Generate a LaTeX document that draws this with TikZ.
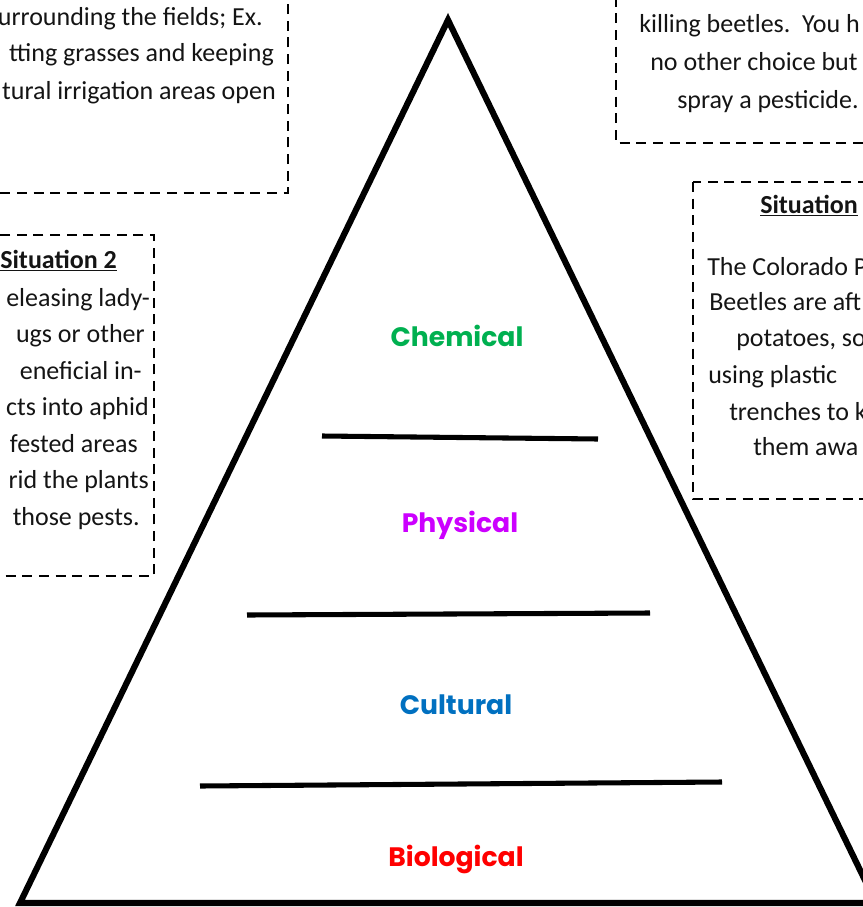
\documentclass[tikz,border=0pt]{standalone}
\usepackage{fontspec}
\setmainfont{Carlito}
\newfontfamily\tierfont{Poppins}
\usetikzlibrary{positioning}
\definecolor{chemgreen}{RGB}{0,176,80}
\definecolor{physpurple}{RGB}{204,0,255}
\definecolor{cultblue}{RGB}{0,112,192}
\definecolor{biored}{RGB}{255,0,0}
\definecolor{bodytext}{RGB}{20,20,20}
\tikzset{
  sitbox/.style={
    draw=black, line width=2.2pt,
    dash pattern=on 7.5pt off 5pt
  },
  sittext/.style={
    inner sep=0pt, text=bodytext,
    font=\fontsize{19.5}{27}\selectfont
  },
  sittitle/.style={
    inner sep=0pt, text=bodytext,
    font=\fontsize{19.5}{27}\selectfont\bfseries
  },
  tierlabel/.style={
    inner sep=0pt, anchor=base,
    font=\tierfont\bfseries\fontsize{20}{24}\selectfont
  },
  tierline/.style={line width=3.8pt},
  pyramid/.style={line width=4.6pt, line join=miter, miter limit=20},
}

\begin{document}
\begin{tikzpicture}[x=0.75pt, y=-0.75pt]
\useasboundingbox (0,0) rectangle (863,907);
\clip (0,0) rectangle (863,907);

%% ── Situation boxes (cut by the page edge) ─────────────────────────────
\draw[sitbox] (-20,-20) rectangle (288,193);
\node[sittext, anchor=base east] (cult1) at (263,25) {urrounding the fields; Ex.};
\node[sittext, anchor=base east] (cult2) at (274,61) {tting grasses and keeping};
\node[sittext, anchor=base east] (cult3) at (276,99) {tural irrigation areas open};

\draw[sitbox] (616,-20) rectangle (880,143);
\node[sittext, anchor=base west] (chem1) at (639,32) {killing beetles.\ \ You h};
\node[sittext, anchor=base west] (chem2) at (650,70) {no other choice but};
\node[sittext, anchor=base west] (chem3) at (677,108) {spray a pesticide.};

\draw[sitbox] (-20,235) rectangle (154,576);
\node[sittitle, anchor=base east] (bio0) at (117,268) {\underline{Situation 2}};
\node[sittext, anchor=base east] (bio1) at (150,306) {eleasing lady-};
\node[sittext, anchor=base east] (bio2) at (145,342) {ugs or other};
\node[sittext, anchor=base east] (bio3) at (142,379) {eneficial in-};
\node[sittext, anchor=base east] (bio4) at (149,415) {cts into aphid};
\node[sittext, anchor=base east] (bio5) at (138,452) {fested areas};
\node[sittext, anchor=base east] (bio6) at (149,488) {rid the plants};
\node[sittext, anchor=base east] (bio7) at (140,525) {those pests.};

\draw[sitbox] (693,182) rectangle (880,499);
\node[sittitle, anchor=base west] (phys0) at (760,213) {\underline{Situation}};
\node[sittext, anchor=base west] (phys1) at (707,275) {The Colorado P};
\node[sittext, anchor=base west] (phys2) at (709,310) {Beetles are aft};
\node[sittext, anchor=base west] (phys3) at (736,346) {potatoes, so};
\node[sittext, anchor=base west] (phys4) at (708,383) {using plastic};
\node[sittext, anchor=base west] (phys5) at (729,420) {trenches to k};
\node[sittext, anchor=base west] (phys6) at (753,455) {them awa};

%% ── Pyramid and tier dividers ──────────────────────────────────────────
\draw[pyramid] (448,20) -- (876,903) -- (20,903) -- cycle;
\draw[tierline] (322,436) -- (598,439);
\draw[tierline] (247,615) -- (650,613);
\draw[tierline] (200,786) -- (722,782);

%% ── Tier labels ───────────────────────────────────────────────────────
\node[tierlabel, text=chemgreen] (chemical) at (457,346) {Chemical};
\node[tierlabel, text=physpurple] (physical) at (460,532) {Physical};
\node[tierlabel, text=cultblue] (cultural) at (456,714) {Cultural};
\node[tierlabel, text=biored] (biological) at (456,866) {Biological};

\end{tikzpicture}
\end{document}
